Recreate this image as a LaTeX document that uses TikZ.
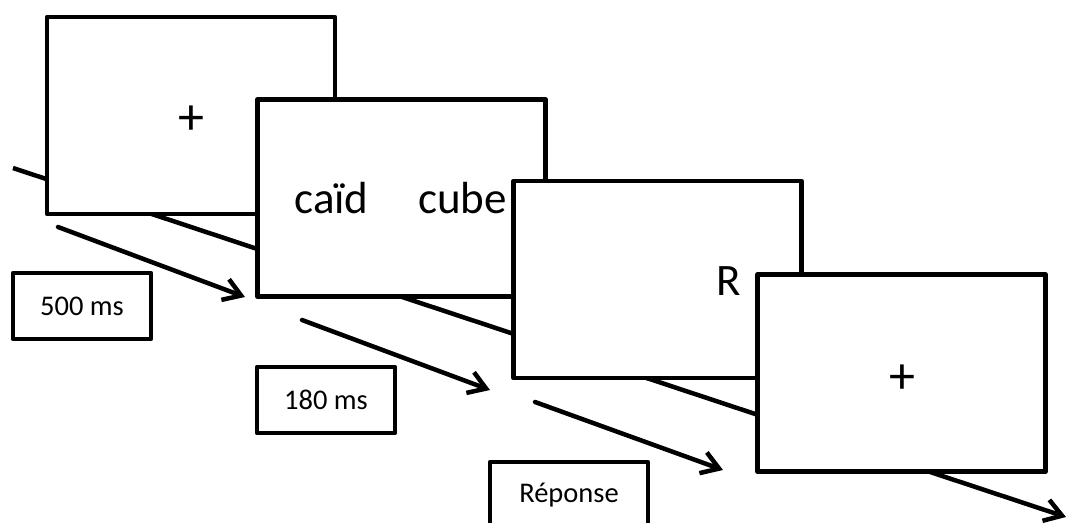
\documentclass[tikz,border=0pt]{standalone}
\usepackage{fontspec}
\setmainfont{Carlito}
\usetikzlibrary{arrows.meta}
\begin{document}
\begin{tikzpicture}[x=1pt,y=-1pt,
  screen/.style={draw=black, line width=4.5pt, fill=white, minimum width=288pt, minimum height=197pt, inner sep=0pt, line join=round},
  lbl/.style={draw=black, line width=4.5pt, fill=white, minimum height=66pt, inner sep=0pt, font=\fontsize{28.5}{30}\selectfont, line join=round},
  big/.style={inner sep=0pt, anchor=base, font=\fontsize{45}{48}\selectfont},
  plus/.style={inner sep=0pt, font=\fontsize{52}{56}\selectfont},
  arr/.style={line width=4.5pt, -{Straight Barb[length=17pt,width=22pt,line width=4.5pt]}, line cap=round}
]
\useasboundingbox (0,0) rectangle (1067,522);
\clip (0,0) rectangle (1067,522);
% long timeline
\coordinate (ls) at (13,168);
\coordinate (le) at (1066,517);
\draw[line width=4.5pt, -{Straight Barb[length=17pt,width=22pt,line width=4.5pt]}] (ls) -- (le);
% screens
\node[screen] (b1) at (191,115.5) {};
\node[screen] (b2) at (401.5,198) {};
\node[screen] (b3) at (657.5,279.5) {};
\node[screen] (b4) at (901.5,373) {};
% contents
\node[plus] (p1) at (191,120) {+};
\node[big] (w1) at (331.5,213) {caïd};
\node[big] (w2) at (462.5,213) {cube};
\node[big] (r) at (729,295) {R};
\node[plus] (p2) at (902,379) {+};
% short arrows
\coordinate (a1s) at (58,227); \coordinate (a1e) at (245,297);
\coordinate (a2s) at (302,320); \coordinate (a2e) at (490,390);
\coordinate (a3s) at (535,402); \coordinate (a3e) at (723,470);
\draw[arr] (a1s) -- (a1e);
\draw[arr] (a2s) -- (a2e);
\draw[arr] (a3s) -- (a3e);
% duration labels
\node[lbl, minimum width=138pt] (l1) at (82,306) {500 ms};
\node[lbl, minimum width=138pt] (l2) at (326,400) {180 ms};
\node[lbl, minimum width=158pt] (l3) at (569,495) {\raisebox{2pt}{Réponse}};
\end{tikzpicture}
\end{document}
